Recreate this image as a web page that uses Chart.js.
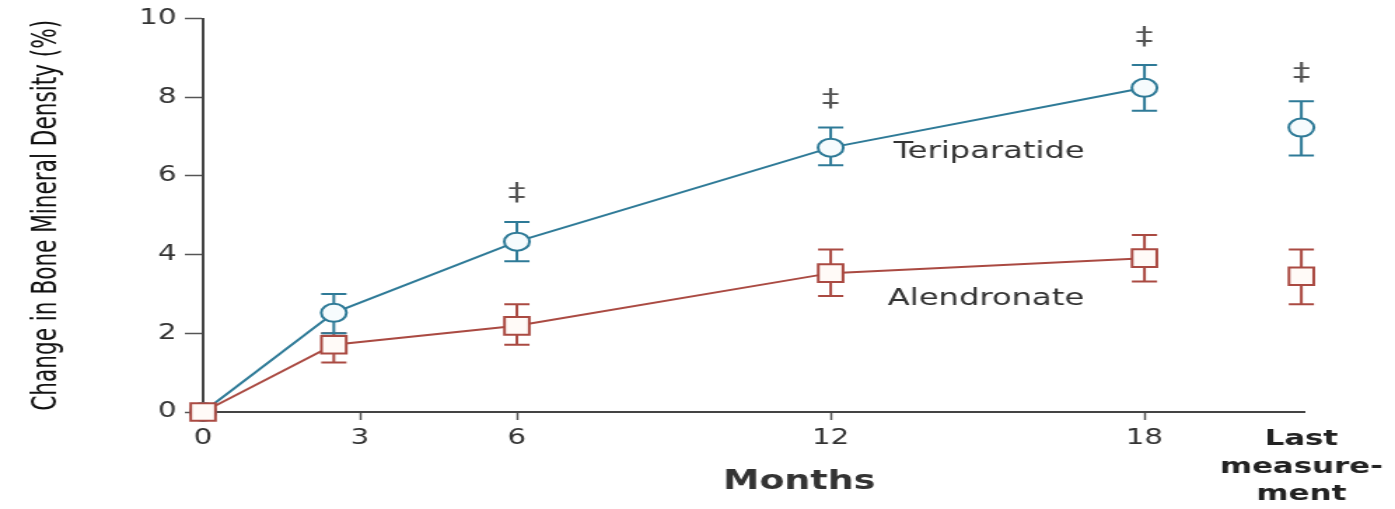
<!DOCTYPE html>
<html>
<head>
<meta charset="utf-8">
<script src="https://cdn.jsdelivr.net/npm/chart.js@4.4.1/dist/chart.umd.min.js"></script>
<style>
  body { margin: 0; background: #fff; overflow: hidden; }
  /* the figure is a horizontally stretched picture, so the canvas gets stretched the same way */
  #wrap { width: 996px; height: 509px; transform: scaleX(1.4006); transform-origin: 0 0; }
</style>
</head>
<body>
<div id="wrap"><canvas id="myChart" width="996" height="509"></canvas></div>
<script>
// DATA
var months = [0, 2.5, 6, 12, 18, 21];
var tickValues = [0, 3, 6, 12, 18, 21];
var tickLabels = ['0', '3', '6', '12', '18', ['Last', 'measure-', 'ment']];
var yTicks = [0, 2, 4, 6, 8, 10];

var teriparatide = [0, 2.52, 4.33, 6.72, 8.24, 7.23];
var teriLow = [null, 2.0, 3.83, 6.27, 7.66, 6.52];
var teriHigh = [null, 3.0, 4.83, 7.23, 8.82, 7.9];

var alendronate = [0, 1.71, 2.19, 3.53, 3.91, 3.45];
var alenLow = [null, 1.26, 1.71, 2.95, 3.32, 2.74];
var alenHigh = [null, 2.0, 2.74, 4.13, 4.5, 4.13];

var significant = [false, false, true, true, true, true];

var BLUE = '#2e7a97';
var RED = '#aa4a42';
var FONT = "'DejaVu Sans', Verdana, sans-serif";

function points(values) {
    return months.map((m, i) => ({ x: m, y: values[i] }));
}

// the last measurement is not joined to the 18 month point
function noLastSegment(color) {
    return { borderColor: c => c.p1DataIndex === months.length - 1 ? 'rgba(0,0,0,0)' : color };
}

// ERROR BARS, drawn under the markers
const errorBars = {
    id: 'errorBars',
    beforeDatasetsDraw(chart) {
        const ctx = chart.ctx;
        const xs = chart.scales.x, ys = chart.scales.y;
        const series = [
            { low: alenLow, high: alenHigh, color: RED },
            { low: teriLow, high: teriHigh, color: BLUE }
        ];
        ctx.save();
        series.forEach(s => {
            ctx.strokeStyle = s.color;
            ctx.lineWidth = 2;
            months.forEach((m, i) => {
                if (s.low[i] == null) return;
                const x = xs.getPixelForValue(m);
                const y1 = ys.getPixelForValue(s.low[i]);
                const y2 = ys.getPixelForValue(s.high[i]);
                ctx.beginPath();
                ctx.moveTo(x, y1); ctx.lineTo(x, y2);
                ctx.moveTo(x - 9, y1); ctx.lineTo(x + 9, y1);
                ctx.moveTo(x - 9, y2); ctx.lineTo(x + 9, y2);
                ctx.stroke();
            });
        });
        ctx.restore();
    }
};

// SERIES NAMES, SIGNIFICANCE MARKS AND THE "Months" CAPTION
const notes = {
    id: 'notes',
    afterDatasetsDraw(chart) {
        const ctx = chart.ctx;
        const xs = chart.scales.x, ys = chart.scales.y;
        ctx.save();
        ctx.textAlign = 'center';
        ctx.textBaseline = 'middle';

        ctx.fillStyle = '#555';
        ctx.font = '25px ' + FONT;
        months.forEach((m, i) => {
            if (!significant[i]) return;
            ctx.fillText('\u2021', xs.getPixelForValue(m), ys.getPixelForValue(teriHigh[i]) - 28);
        });

        ctx.fillStyle = '#333';
        ctx.font = '23px ' + FONT;
        ctx.fillText('Teriparatide', xs.getPixelForValue(15.03), ys.getPixelForValue(6.6));
        ctx.fillText('Alendronate', xs.getPixelForValue(14.97), ys.getPixelForValue(2.87));

        ctx.font = 'bold 26px ' + FONT;
        ctx.fillText('Months', xs.getPixelForValue(11.4), chart.chartArea.bottom + 70);
        ctx.restore();
    }
};

const ctx = document.getElementById('myChart').getContext('2d');
const myChart = new Chart(ctx, {
    type: 'line',
    data: {
        datasets: [{
            label: 'Teriparatide',
            data: points(teriparatide),
            order: 1,
            borderColor: BLUE,
            borderWidth: 2,
            segment: noLastSegment(BLUE),
            pointStyle: 'circle',
            pointRadius: 9,
            pointBorderWidth: 2,
            pointBorderColor: BLUE,
            pointBackgroundColor: '#f6fbfd',
            clip: false
        }, {
            label: 'Alendronate',
            data: points(alendronate),
            order: 0,
            borderColor: RED,
            borderWidth: 2,
            segment: noLastSegment(RED),
            pointStyle: 'rect',
            pointRadius: 12.5,
            pointBorderWidth: 2,
            pointBorderColor: RED,
            pointBackgroundColor: '#fffaf7',
            clip: false
        }]
    },
    options: {
        responsive: false,
        animation: false,
        layout: { padding: { top: 15, right: 65, bottom: 0, left: 0 } },
        plugins: { legend: { display: false }, tooltip: { enabled: false } },
        scales: {
            x: {
                type: 'linear',
                min: 0,
                max: 21.05,
                afterBuildTicks: s => { s.ticks = tickValues.map(v => ({ value: v })); },
                afterFit: s => { s.height = 97; },
                ticks: {
                    autoSkip: false,
                    maxRotation: 0,
                    padding: 6,
                    callback: (v, i) => tickLabels[i],
                    color: c => c.index === 5 ? '#222' : '#333',
                    font: c => c.index === 5
                        ? { family: FONT, size: 22, weight: 'bold', lineHeight: 1.24 }
                        : { family: FONT, size: 21 }
                },
                grid: {
                    drawOnChartArea: false,
                    tickLength: 8,
                    tickWidth: 1.5,
                    tickColor: c => c.index === 5 ? 'rgba(0,0,0,0)' : '#555'
                },
                border: { color: '#444', width: 2 }
            },
            y: {
                min: 0,
                max: 10,
                afterBuildTicks: s => { s.ticks = yTicks.map(v => ({ value: v })); },
                afterFit: s => { s.width = 145; },
                ticks: { padding: 6, color: '#333', font: { family: FONT, size: 21 } },
                grid: { drawOnChartArea: false, tickLength: 13, tickWidth: 1.5, tickColor: '#555' },
                border: { color: '#444', width: 2 },
                title: {
                    display: true,
                    text: 'Change in Bone Mineral Density (%)',
                    color: '#111',
                    font: { family: "'Liberation Sans Narrow', 'DejaVu Sans Condensed', 'Arial Narrow', sans-serif", size: 24 },
                    padding: { top: 19, bottom: 0 }
                }
            }
        }
    },
    plugins: [errorBars, notes]
});
</script>
</body>
</html>
